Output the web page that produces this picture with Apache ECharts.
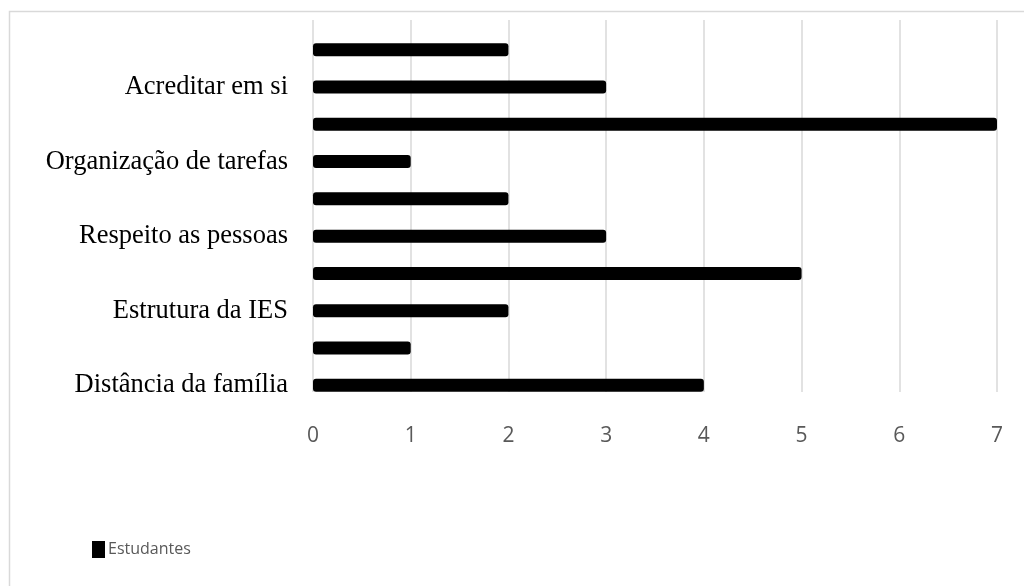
<!DOCTYPE html>
<html>
<head>
<meta charset="utf-8">
<script src="https://cdn.jsdelivr.net/npm/echarts@6/dist/echarts.min.js"></script>
<style>
  html, body { margin: 0; padding: 0; background: #fff; }
  #chart { width: 1024px; height: 586px; }
</style>
</head>
<body>
<div id="chart"></div>
<script>
// Categories from bottom to top; only every other one carries a visible label
const categories = [
  'Distância da família', '', 'Estrutura da IES', '', 'Respeito as pessoas',
  '', 'Organização de tarefas', '', 'Acreditar em si', ''
];
const estudantes = [4, 1, 2, 5, 3, 2, 1, 7, 3, 2];
const seriesName = 'Estudantes';
const xMin = 0, xMax = 7, xStep = 1;

const chart = echarts.init(document.getElementById('chart'), null, { renderer: 'canvas' });

const sansFamily = 'Open Sans, Liberation Sans, sans-serif';

chart.setOption({
  animation: false,
  backgroundColor: '#fff',
  graphic: [{
    type: 'rect',
    shape: { x: 9.5, y: 11.5, width: 1030, height: 590 },
    style: { fill: 'none', stroke: '#d9d9d9', lineWidth: 1.5 },
    silent: true
  }],
  legend: {
    left: 87, top: 536,
    itemWidth: 13, itemHeight: 17, itemGap: 5,
    icon: 'rect',
    textStyle: { fontFamily: sansFamily, fontSize: 16, color: '#595959', padding: [0, 0, 0, -2] },
    data: [seriesName]
  },
  grid: [
    { left: 313, right: 27, top: 31, bottom: 182, containLabel: false },
    { left: 313, right: 27, top: 20, bottom: 194, containLabel: false }
  ],
  xAxis: [
    {
      type: 'value', gridIndex: 0, min: xMin, max: xMax, interval: xStep,
      axisLine: { show: false }, axisTick: { show: false },
      splitLine: { show: false },
      axisLabel: { margin: 22, fontFamily: sansFamily, fontSize: 21, color: '#595959' }
    },
    {
      // vertical gridlines running the full plot height
      type: 'value', gridIndex: 1, min: xMin, max: xMax, interval: xStep,
      axisLine: { show: false }, axisTick: { show: false },
      axisLabel: { show: false },
      splitLine: { show: true, lineStyle: { color: '#d9d9d9', width: 1.5 } }
    }
  ],
  yAxis: [
    {
      type: 'category', gridIndex: 0,
      data: categories.map((c, i) => String(i)),
      axisLine: { show: false }, axisTick: { show: false },
      axisLabel: {
        interval: 0, margin: 25,
        fontFamily: 'Liberation Serif, DejaVu Serif, serif', fontSize: 26.5, color: '#000',
        formatter: v => categories[+v]
      }
    },
    { type: 'value', gridIndex: 1, min: 0, max: 1, show: false }
  ],
  series: [{
    name: seriesName,
    type: 'bar',
    xAxisIndex: 0, yAxisIndex: 0,
    data: estudantes,
    barWidth: 13,
    itemStyle: { color: '#000', borderRadius: 3 }
  }]
});
</script>
</body>
</html>
